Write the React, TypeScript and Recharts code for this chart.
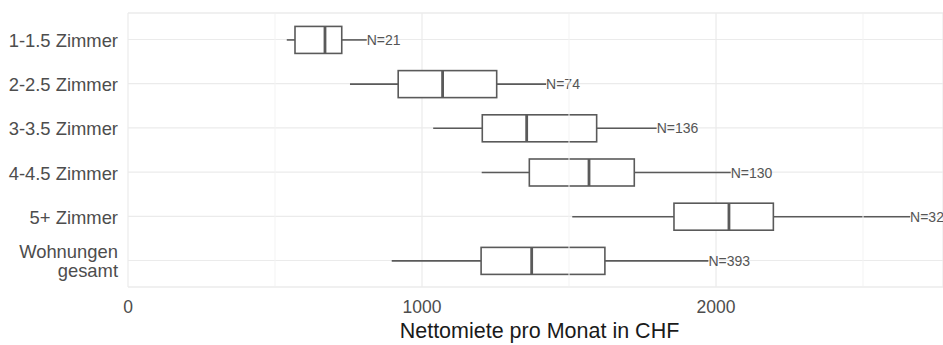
import { ComposedChart, Bar, XAxis, YAxis, CartesianGrid, ReferenceLine, Label } from 'recharts';

const categories = ['1-1.5 Zimmer', '2-2.5 Zimmer', '3-3.5 Zimmer', '4-4.5 Zimmer', '5+ Zimmer', 'Wohnungen\ngesamt'];
const whiskerLow = [540, 755, 1038, 1203, 1511, 897];
const q1 = [568, 919, 1205, 1365, 1857, 1201];
const median = [670, 1070, 1356, 1568, 2044, 1373];
const q3 = [727, 1254, 1594, 1722, 2195, 1622];
const whiskerHigh = [812, 1422, 1798, 2050, 2660, 1974];
const counts = [21, 74, 136, 130, 32, 393];
const majorTicks = [0, 1000, 2000];
const minorTicks = [500, 1500, 2500];

const data = categories.map((name, i) => ({
  pos: i + 1,
  name,
  low: whiskerLow[i],
  q1: q1[i],
  median: median[i],
  q3: q3[i],
  high: whiskerHigh[i],
  n: counts[i],
}));

const BOX = '#5a5a5a';

const BoxShape = (props: any) => {
  const { x, y, width, height, payload } = props;
  const d = payload;
  const k = width / (d.high - d.low);
  const px = (v: number) => x + (v - d.low) * k;
  const cy = y + height / 2;
  return (
    <g>
      <line x1={px(d.low)} x2={px(d.q1)} y1={cy} y2={cy} stroke={BOX} strokeWidth={1.6} />
      <line x1={px(d.q3)} x2={px(d.high)} y1={cy} y2={cy} stroke={BOX} strokeWidth={1.6} />
      <rect x={px(d.q1)} y={y} width={px(d.q3) - px(d.q1)} height={height} fill="#fff" stroke={BOX} strokeWidth={1.6} />
      <line x1={px(d.median)} x2={px(d.median)} y1={y} y2={y + height} stroke={BOX} strokeWidth={2.8} />
      <text x={px(d.high)} y={cy} dy={5} fontSize={14} fill="#555">{`N=${d.n}`}</text>
    </g>
  );
};

const YTick = (props: any) => {
  const { x, y, payload } = props;
  const label = categories[payload.value - 1] ?? '';
  const lines = label.split('\n');
  const lh = 19;
  const start = -((lines.length - 1) * lh) / 2;
  return (
    <text x={x} y={y} textAnchor="end" fontSize={18.4} fill="#4d4d4d">
      {lines.map((l, i) => (
        <tspan key={i} x={x} dy={i === 0 ? start + 7.5 : lh}>{l}</tspan>
      ))}
    </text>
  );
};

export default function App() {
  return (
    <div style={{ position: 'absolute', left: 0, top: 0 }}>
      <ComposedChart
        width={943}
        height={345}
        data={data}
        layout="vertical"
        margin={{ top: 13, right: 0, bottom: 0, left: 0 }}
        style={{ fontFamily: '"Liberation Sans", Arial, sans-serif' }}
      >
        <CartesianGrid stroke="#ebebeb" strokeWidth={1.2} />
        {minorTicks.map((t) => (
          <ReferenceLine key={t} x={t} stroke="#f3f3f3" strokeWidth={1} />
        ))}
        <ReferenceLine y={0.4} stroke="#ebebeb" strokeWidth={1.2} />
        <ReferenceLine y={6.6} stroke="#ebebeb" strokeWidth={1.2} />
        <XAxis
          type="number"
          domain={[0, 2772]}
          ticks={majorTicks}
          allowDataOverflow
          tickLine={false}
          axisLine={false}
          tickMargin={8}
          height={58}
          tick={{ fontSize: 17.5, fill: '#4d4d4d' }}
        >
          <Label value="Nettomiete pro Monat in CHF" position="insideBottom" offset={7} dx={4} fontSize={21.5} fill="#1a1a1a" />
        </XAxis>
        <YAxis
          type="number"
          dataKey="pos"
          domain={[0.4, 6.6]}
          ticks={[1, 2, 3, 4, 5, 6]}
          width={128}
          tickLine={false}
          axisLine={false}
          tickSize={0}
          tickMargin={10}
          tick={<YTick />}
        />
        <Bar
          dataKey={(d: any) => [d.low, d.high]}
          barSize={27}
          shape={<BoxShape />}
          isAnimationActive={false}
        />
      </ComposedChart>
    </div>
  );
}
